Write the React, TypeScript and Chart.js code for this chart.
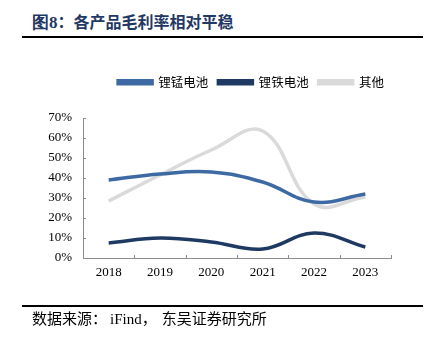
import React, { useEffect, useRef } from "react";
import { Chart, registerables } from "chart.js";

Chart.register(...registerables);

const categories = ["2018", "2019", "2020", "2021", "2022", "2023"];
const seriesNames = ["锂锰电池", "锂铁电池", "其他"];
const limn = [39, 42, 43, 38, 28, 32];
const life = [7.5, 10, 8, 4.5, 12.5, 5.5];
const other = [28.5, 41.5, 54, 63.5, 27, 30.5];
const colors = ["#3E6AA3", "#1E3A63", "#DADADA"];

const SERIF = "'Liberation Serif', 'Times New Roman', serif";
const CJK = "'Noto Sans CJK SC', sans-serif";

const innerTicks = {
  id: "innerTicks",
  afterDraw(chart: any) {
    const { ctx, chartArea } = chart;
    const x = chart.scales.x;
    const y = chart.scales.y;
    ctx.save();
    ctx.strokeStyle = "#8c8c8c";
    ctx.lineWidth = 1;
    ctx.beginPath();
    for (let v = 0; v <= 70; v += 10) {
      const py = Math.round(y.getPixelForValue(v)) + 0.5;
      ctx.moveTo(chartArea.left, py);
      ctx.lineTo(chartArea.left + 3, py);
    }
    for (let i = 0; i <= categories.length; i++) {
      const px = Math.round(x.getPixelForValue(i - 0.5)) + 0.5;
      ctx.moveTo(px, chartArea.bottom);
      ctx.lineTo(px, chartArea.bottom - 3);
    }
    ctx.stroke();
    ctx.restore();
  },
};

const legendSpace = {
  id: "legendSpace",
  beforeInit(chart: any) {
    const lg = chart.legend;
    if (!lg) return;
    const orig = lg.fit;
    lg.fit = function () {
      orig.call(this);
      this.height = 52;
    };
  },
  afterLayout(chart: any) {
    const lg = chart.legend;
    if (!lg) return;
    lg.left += 34;
    lg.right += 34;
  },
};

export default function App() {
  const ref = useRef<HTMLCanvasElement>(null);
  useEffect(() => {
    if (!ref.current) return;
    const chart = new Chart(ref.current, {
      type: "line",
      data: {
        labels: categories,
        datasets: [limn, life, other].map((d, i) => ({
          label: seriesNames[i],
          data: d,
          borderColor: colors[i],
          backgroundColor: colors[i],
          borderWidth: 3.5,
          pointRadius: 0,
          tension: 0.4,
          fill: false,
        })),
      },
      options: {
        animation: false,
        responsive: false,
        layout: { padding: { left: 43, right: 40, top: 66, bottom: 63 } },
        plugins: {
          tooltip: { enabled: false },
          legend: {
            position: "top",
            labels: {
              boxWidth: 34,
              boxHeight: 3,
              padding: 10,
              color: "#000",
              font: { family: CJK, size: 12.5 },
            },
          },
        },
        scales: {
          x: {
            offset: true,
            grid: { display: false, drawTicks: false },
            border: { display: true, color: "#8c8c8c", width: 1 },
            ticks: { color: "#000", padding: 7, font: { family: SERIF, size: 13 } },
            afterFit(s: any) {
              s.height = 20;
            },
          },
          y: {
            min: 0,
            max: 70,
            grid: { display: false, drawTicks: false },
            border: { display: true, color: "#8c8c8c", width: 1 },
            ticks: {
              stepSize: 10,
              color: "#000",
              padding: 11,
              font: { family: SERIF, size: 13 },
              callback: (v: any) => v + "%",
            },
            afterFit(s: any) {
              s.width = 40;
            },
          },
        },
      },
      plugins: [innerTicks, legendSpace],
    });
    return () => chart.destroy();
  }, []);

  return (
    <div style={{ position: "absolute", left: 0, top: 0, width: 431, height: 341, background: "#fff" }}>
      <div
        style={{
          position: "absolute",
          left: 32,
          top: 11,
          fontFamily: CJK,
          fontWeight: "bold",
          fontSize: 16,
          color: "#1F3864",
          whiteSpace: "nowrap",
          lineHeight: "20px",
        }}
      >
        <span style={{ fontFamily: SERIF, fontSize: 17 }}>图8</span>：各产品毛利率相对平稳
      </div>
      <div style={{ position: "absolute", left: 22, top: 36, width: 401, height: 2, background: "#000" }} />
      <canvas ref={ref} width={431} height={341} style={{ position: "absolute", left: 0, top: 0 }} />
      <div style={{ position: "absolute", left: 22, top: 305, width: 401, height: 2, background: "#000" }} />
      <div
        style={{
          position: "absolute",
          left: 32,
          top: 308,
          fontFamily: CJK,
          fontSize: 15,
          color: "#000",
          whiteSpace: "nowrap",
          lineHeight: "20px",
        }}
      >
        数据来源：<span style={{ fontFamily: SERIF, fontSize: 15, marginLeft: 3 }}>iFind</span>，<span style={{ marginLeft: 5 }}>东吴证券研究所</span>
      </div>
    </div>
  );
}
